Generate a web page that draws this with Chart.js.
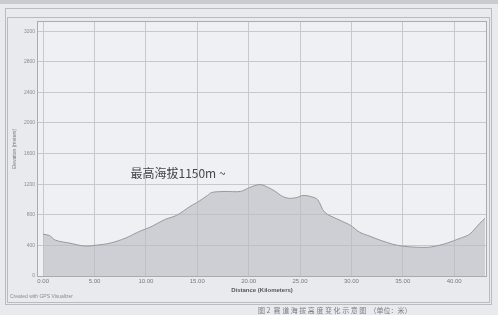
<!DOCTYPE html>
<html>
<head>
<meta charset="utf-8">
<script src="https://cdn.jsdelivr.net/npm/chart.js@4.4.0/dist/chart.umd.min.js"></script>
<style>
  html, body { margin: 0; padding: 0; background: #e8eaee; }
  #wrap { width: 498px; height: 315px; position: relative; }
</style>
</head>
<body>
<div id="wrap"><canvas id="mycanvas" width="498" height="315"></canvas></div>
<script>
// elevation profile
var distanceKm = [0, 0.6, 1.2, 2.6, 4.1, 5.2, 6.5, 8.0, 9.4, 10.4, 11.9, 13.0, 14.3, 15.0, 16.0, 16.4,
  17.7, 19.2, 20.1, 21.1, 21.9, 22.6, 23.3, 24.0, 24.7, 25.3, 26.0, 26.7, 27.4, 28.9, 29.9,
  30.8, 31.8, 32.8, 34.0, 35.0, 36.2, 37.6, 38.6, 39.3, 40.6, 41.5, 42.5, 43.0];
var elevationM = [545, 530, 468, 429, 390, 403, 429, 494, 585, 637, 741, 793, 910, 962, 1053, 1092,
  1105, 1105, 1157, 1196, 1157, 1105, 1040, 1014, 1027, 1053, 1040, 1001, 832, 728, 663,
  572, 520, 468, 416, 390, 377, 377, 403, 429, 494, 546, 689, 754];
var xTicks = [0, 5, 10, 15, 20, 25, 30, 35, 40];
var yTicks = [0, 400, 800, 1200, 1600, 2000, 2400, 2800, 3200];
var peakLabel = "最高海拔1150m ~";

var points = [];
for (var i in distanceKm) {
  points.push({x: distanceKm[i], y: elevationM[i]});
}

var FONT = "'Liberation Sans', Arial, sans-serif";

// frame, header band, annotation and footer text
var extras = {
  id: 'extras',
  beforeDraw: function(chart) {
    var c = chart.ctx, a = chart.chartArea;
    c.save();
    c.fillStyle = '#e8eaee';
    c.fillRect(0, 0, chart.width, chart.height);
    c.fillStyle = '#c9cbcf';
    c.fillRect(0, 0, 498, 4);
    c.strokeStyle = '#b9bbbf';
    c.lineWidth = 1;
    c.strokeRect(5.5, 8.5, 486, 296);
    c.strokeRect(7.5, 17.5, 482, 285);
    c.fillStyle = '#eef0f3';
    c.fillRect(a.left, a.top, a.right - a.left, a.bottom - a.top);
    c.restore();
  },
  afterDraw: function(chart) {
    var c = chart.ctx, a = chart.chartArea;
    c.save();
    c.strokeStyle = '#a9abaf';
    c.lineWidth = 1;
    c.strokeRect(a.left - 0.5, a.top - 0.5, a.right - a.left + 1, a.bottom - a.top + 1);
    // annotation near the summit
    var xs = chart.scales.x, ys = chart.scales.y;
    c.fillStyle = '#46464a';
    c.font = "12px 'Noto Sans CJK SC'";
    c.textBaseline = 'middle';
    c.fillText(peakLabel, xs.getPixelForValue(8.5), ys.getPixelForValue(1340));
    c.font = "5px " + FONT;
    c.fillStyle = '#8a8c90';
    c.fillText('Created with GPS Visualizer', 10, 297);
    c.font = "7px 'Noto Sans CJK SC'";
    c.fillStyle = '#7a7c80';
    c.fillText('图 2  赛 道 海 拔 高 度 变 化 示 意 图  （单位：米）', 258, 310);
    c.restore();
  }
};

function setTicks(list) {
  return function(s) {
    s.ticks = list.map(function(v) { return {value: v}; });
  };
}

var ctx = document.getElementById('mycanvas');

var LineGraph = new Chart(ctx, {
  type: 'line',
  data: {
    datasets: [{
      label: 'elevation',
      data: points,
      fill: 'origin',
      tension: 0.3,
      backgroundColor: 'rgba(185, 187, 192, 0.62)',
      borderColor: '#97999d',
      borderWidth: 1,
      pointRadius: 0
    }]
  },
  options: {
    responsive: false,
    animation: false,
    layout: { padding: { left: 12, top: 22, right: 12, bottom: 21 } },
    plugins: { legend: { display: false }, tooltip: { enabled: false } },
    scales: {
      x: {
        type: 'linear',
        min: -0.5,
        max: 43.1,
        afterBuildTicks: setTicks(xTicks),
        afterFit: function(s) { s.height = 18; },
        ticks: {
          autoSkip: false,
          maxRotation: 0,
          padding: 2,
          font: { size: 6, family: FONT },
          color: '#77797d',
          callback: function(v) { return Number(v).toFixed(2); }
        },
        grid: { color: '#c6c8cc', drawTicks: false },
        border: { display: false },
        title: {
          display: true,
          text: 'Distance (Kilometers)',
          font: { size: 6, family: FONT, weight: 'bold' },
          color: '#55575b',
          padding: 0
        }
      },
      y: {
        min: 0,
        max: 3320,
        afterBuildTicks: setTicks(yTicks),
        afterFit: function(s) { s.width = 26; },
        ticks: {
          autoSkip: false,
          padding: 3,
          font: { size: 5, family: FONT },
          color: '#8a8c90',
          callback: function(v) { return String(v); }
        },
        grid: { color: '#c6c8cc', drawTicks: false },
        border: { display: false },
        title: {
          display: true,
          text: 'Elevation (meters)',
          font: { size: 5, family: FONT },
          color: '#77797d',
          padding: 0
        }
      }
    }
  },
  plugins: [extras]
});
</script>
</body>
</html>
